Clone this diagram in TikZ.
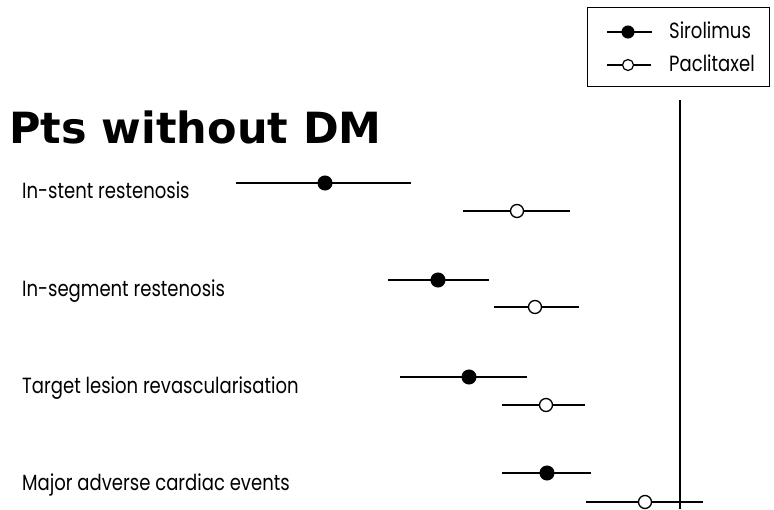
\documentclass[tikz,border=0pt]{standalone}
\usepackage{fontspec}
\newfontfamily\titlefont{DejaVu Sans}[BoldFont={DejaVu Sans Bold}]
\newfontfamily\labfont{Poppins}[FakeStretch=0.82]
\begin{document}
\begin{tikzpicture}[x=1pt,y=-1pt,
  ci/.style={line width=2pt},
  fdot/.style={circle,fill=black,draw=black,line width=1pt,minimum size=14pt,inner sep=0pt},
  odot/.style={circle,fill=white,draw=black,line width=1.3pt,minimum size=13pt,inner sep=0pt},
  lab/.style={anchor=base west,inner sep=0pt,font=\labfont\fontsize{22}{22}\selectfont},
  ldot/.style={circle,fill=black,draw=black,line width=1pt,minimum size=12pt,inner sep=0pt},
  lodot/.style={circle,fill=white,draw=black,line width=1.2pt,minimum size=11pt,inner sep=0pt}]
\useasboundingbox (0,0) rectangle (774,509);
\fill[white] (0,0) rectangle (774,509);
% legend
\node[draw=black,line width=1.3pt,minimum width=182pt,minimum height=79pt,anchor=north west,inner sep=0pt] (legend) at (587,7) {};
\coordinate (l1a) at (607,32); \coordinate (l1b) at (652,32);
\coordinate (l2a) at (607,65); \coordinate (l2b) at (651,65);
\draw[ci] (l1a) -- (l1b);
\draw[ci] (l2a) -- (l2b);
\node[ldot] (ls) at (628,32) {};
\node[lodot] (lp) at (628,65) {};
\node[lab] (tsir) at (669,38) {Sirolimus};
\node[lab] (tpac) at (669,71) {Paclitaxel};
% reference line
\coordinate (vtop) at (680,100); \coordinate (vbot) at (680,509);
\draw[ci] (vtop) -- (vbot);
% title
\node[anchor=base west,inner sep=0pt,font=\titlefont\bfseries\fontsize{43}{43}\selectfont] (title) at (9,143) {Pts without DM};
% labels
\node[lab] (t1) at (22,198) {In-stent restenosis};
\node[lab] (t2) at (22,296) {In-segment restenosis};
\node[lab] (t3) at (22,393) {Target lesion revascularisation};
\node[lab] (t4) at (22,490) {Major adverse cardiac events};
% rows
\foreach \n/\a/\b/\c/\y/\s in {s1/236/411/325/183/fdot, p1/463/570/517/211/odot,
  s2/388/489/438/280/fdot, p2/494/579/535/307/odot,
  s3/400/527/469/377/fdot, p3/502/585/546/405/odot,
  s4/502/591/547/473/fdot, p4/586/703/645/502/odot}{
  \coordinate (\n a) at (\a,\y); \coordinate (\n b) at (\b,\y);
  \draw[ci] (\n a) -- (\n b);
  \node[\s] (\n) at (\c,\y) {};
}
\end{tikzpicture}
\end{document}
